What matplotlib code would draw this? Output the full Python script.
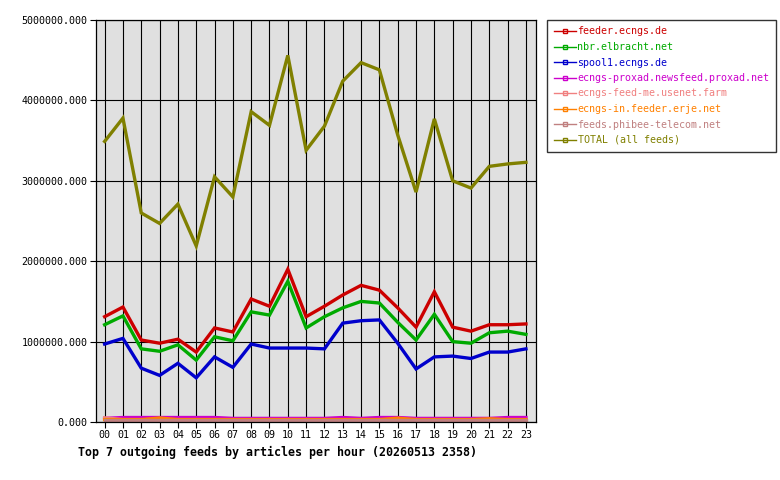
"""Top outgoing feeds by articles per hour."""

import matplotlib
matplotlib.use("Agg")
import matplotlib.pyplot as plt
from matplotlib.ticker import FuncFormatter

hours = [f"{h:02d}" for h in range(24)]

feeder = [1310000, 1430000, 1020000, 980000, 1030000, 870000, 1170000, 1120000,
          1530000, 1440000, 1900000, 1310000, 1440000, 1580000, 1700000, 1640000,
          1420000, 1180000, 1620000, 1180000, 1130000, 1210000, 1210000, 1220000]
nbr = [1210000, 1320000, 910000, 880000, 960000, 770000, 1060000, 1010000,
       1370000, 1330000, 1750000, 1170000, 1310000, 1420000, 1500000, 1480000,
       1240000, 1020000, 1340000, 1000000, 980000, 1110000, 1130000, 1090000]
spool1 = [970000, 1040000, 670000, 580000, 730000, 550000, 810000, 680000,
          970000, 920000, 920000, 920000, 910000, 1230000, 1260000, 1270000,
          980000, 660000, 810000, 820000, 790000, 870000, 870000, 910000]
proxad = [45000, 56000, 56000, 56000, 56000, 56000, 56000, 45000,
          45000, 45000, 45000, 45000, 45000, 56000, 45000, 56000,
          56000, 45000, 45000, 45000, 45000, 45000, 56000, 56000]
feedme = [52000, 30000, 30000, 30000, 30000, 30000, 30000, 30000,
          30000, 30000, 30000, 30000, 30000, 30000, 30000, 30000,
          30000, 30000, 30000, 30000, 30000, 30000, 30000, 30000]
erje = [30000, 30000, 30000, 50000, 30000, 30000, 30000, 30000,
        30000, 30000, 30000, 30000, 30000, 30000, 30000, 30000,
        48000, 30000, 30000, 30000, 30000, 40000, 30000, 30000]
phibee = [20000, 20000, 20000, 20000, 20000, 20000, 20000, 20000,
          20000, 20000, 20000, 20000, 20000, 20000, 20000, 20000,
          20000, 20000, 20000, 20000, 20000, 20000, 20000, 20000]
total = [3490000, 3780000, 2600000, 2470000, 2710000, 2190000, 3050000, 2800000,
         3860000, 3690000, 4560000, 3380000, 3680000, 4240000, 4470000, 4380000,
         3570000, 2860000, 3770000, 3000000, 2910000, 3180000, 3210000, 3230000]

series = [
    ("feeder.ecngs.de", feeder, "#cc0000"),
    ("nbr.elbracht.net", nbr, "#00aa00"),
    ("spool1.ecngs.de", spool1, "#0000cc"),
    ("ecngs-proxad.newsfeed.proxad.net", proxad, "#cc00cc"),
    ("ecngs-feed-me.usenet.farm", feedme, "#f08080"),
    ("ecngs-in.feeder.erje.net", erje, "#ff8000"),
    ("feeds.phibee-telecom.net", phibee, "#c08080"),
    ("TOTAL (all feeds)", total, "#808000"),
]

mono = "DejaVu Sans Mono"

fig = plt.figure(figsize=(7.8, 4.8), dpi=100)
ax = fig.add_axes([0.1231, 0.1208, 0.5641, 0.8375])
ax.set_facecolor("#e0e0e0")

x = list(range(len(hours)))
for label, vals, color in series:
    ax.plot(x, vals, color=color, lw=2.4, label=label, solid_joinstyle="miter")

ax.set_xlim(-0.47, 23.55)
ax.set_ylim(0, 5000000)
ax.set_xticks(x)
ax.set_xticklabels(hours, fontfamily=mono, fontsize=7.2)
ax.set_yticks(range(0, 5000001, 1000000))
ax.yaxis.set_major_formatter(FuncFormatter(lambda v, p: f"{v:.3f}"))
for t in ax.get_yticklabels():
    t.set_fontfamily(mono)
    t.set_fontsize(7.2)
ax.tick_params(direction="out", length=4, width=0.8, color="black", pad=2)
ax.grid(True, color="black", lw=0.8)
ax.set_axisbelow(True)
for s in ax.spines.values():
    s.set_color("black")
    s.set_linewidth(0.9)

leg_handles = []
for (label, vals, color) in series:
    h, = ax.plot([], [], color=color, lw=1, marker="s", markersize=3,
                 markerfacecolor="none", markeredgecolor=color)
    leg_handles.append(h)
leg = fig.legend(leg_handles, [s[0] for s in series], loc="upper left",
                 bbox_to_anchor=(547 / 780, 1 - 20 / 480), frameon=True,
                 fancybox=False, prop={"family": mono, "size": 7.2},
                 handlelength=2.2, handletextpad=0.2, labelspacing=0.55,
                 borderpad=0.65, borderaxespad=0)
leg.get_frame().set_edgecolor("black")
leg.get_frame().set_linewidth(1)
for txt, (label, vals, color) in zip(leg.get_texts(), series):
    txt.set_color(color)

fig.text(78 / 780, 1 - 452 / 480, "Top 7 outgoing feeds by articles per hour (20260513 2358)",
         fontfamily=mono, fontsize=8.4, fontweight="bold", ha="left", va="center")

fig.savefig("out.png", dpi=100)
